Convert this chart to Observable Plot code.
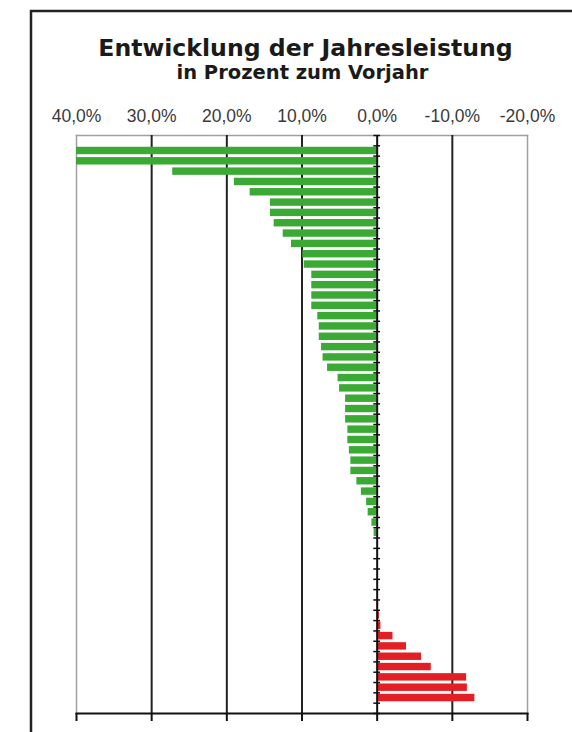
<!DOCTYPE html>
<html>
<head>
<meta charset="utf-8">
<script src="https://cdn.jsdelivr.net/npm/d3@7"></script>
<script src="https://cdn.jsdelivr.net/npm/@observablehq/plot@0.6"></script>
<style>
  html, body { margin: 0; padding: 0; background: #fff; }
  #chart svg { display: block; }
</style>
</head>
<body>
<div id="chart"></div>
<script>
// ---- data ----
const title = "Entwicklung der Jahresleistung";
const subtitle = "in Prozent zum Vorjahr";

// one entry per category slot (top to bottom); null = empty slot
const categories = d3.range(1, 57);
const values = [
  null, 40, 40, 27.2, 19.0, 16.9, 14.2, 14.2, 13.7, 12.5,
  11.4, 9.9, 9.7, 8.7, 8.7, 8.7, 8.7, 7.9, 7.7, 7.7,
  7.4, 7.2, 6.6, 5.2, 5.0, 4.2, 4.2, 4.2, 3.9, 3.9,
  3.7, 3.5, 3.5, 2.7, 2.1, 1.4, 1.2, 0.7, 0.4, null,
  null, null, null, null, null, -0.2, -0.3, -0.5, -2.1, -3.9,
  -5.9, -7.2, -11.9, -12.0, -13.0, null
];
const tickValues = [40, 30, 20, 10, 0, -10, -20];
const tickLabels = ["40,0%", "30,0%", "20,0%", "10,0%", "0,0%", "-10,0%", "-20,0%"];
const gridValues = [30, 20, 10, -10];

const green = "#3aaa35";
const red = "#e31e24";

const rows = categories.map((c, i) => ({cat: c, i, value: values[i]}))
  .filter(d => d.value != null);
const boundaries = d3.range(categories.length + 1).map(k => k - 0.5);
const half = 0.36;

const plot = Plot.plot({
  width: 572,
  height: 732,
  marginLeft: 76,
  marginRight: 45,
  marginTop: 135,
  marginBottom: 19,
  style: {background: "#fff", overflow: "visible"},
  x: {domain: [40, -20], label: null},
  y: {domain: [-0.5, categories.length - 0.5], reverse: true, axis: null, label: null},
  marks: [
    Plot.frame({anchor: "top", stroke: "#a0a0a0", strokeWidth: 1.5}),
    Plot.frame({anchor: "left", stroke: "#a0a0a0", strokeWidth: 1.5}),
    Plot.frame({anchor: "right", stroke: "#a0a0a0", strokeWidth: 1.5}),
    Plot.ruleX(gridValues, {stroke: "#222", strokeWidth: 2}),
    Plot.rect(rows, {
      x1: 0, x2: "value",
      y1: d => d.i - half, y2: d => d.i + half,
      fill: d => d.value >= 0 ? green : red
    }),
    Plot.ruleX([0], {stroke: "#111", strokeWidth: 2}),
    Plot.ruleY(boundaries, {y: d => d, x1: 0.45, x2: -0.45, stroke: "#111", strokeWidth: 1.5}),
    Plot.frame({anchor: "bottom", stroke: "#111", strokeWidth: 2}),
    Plot.axisX({anchor: "bottom", ticks: tickValues, tickSize: 8, tickFormat: () => "", label: null, stroke: "#111", strokeWidth: 2}),
    Plot.axisX({
      anchor: "top", ticks: tickValues, tickSize: 0, tickPadding: 14, label: null,
      tickFormat: d => tickLabels[tickValues.indexOf(d)],
      fontSize: 17.5, fontFamily: "Liberation Sans", fill: "#3a3a3a"
    })
  ]
});

const svg = d3.select(plot);
svg.append("rect")
  .attr("x", 31).attr("y", 11)
  .attr("width", 700).attr("height", 800)
  .attr("fill", "none").attr("stroke", "#222").attr("stroke-width", 2.5);
svg.append("text")
  .attr("x", 305.5).attr("y", 55.5)
  .attr("text-anchor", "middle")
  .attr("font-family", "DejaVu Sans").attr("font-weight", "bold")
  .attr("font-size", 23.6).attr("fill", "#1a1a1a")
  .text(title);
svg.append("text")
  .attr("x", 302.5).attr("y", 78.5)
  .attr("text-anchor", "middle")
  .attr("font-family", "DejaVu Sans").attr("font-weight", "bold")
  .attr("font-size", 19.5).attr("fill", "#1a1a1a")
  .text(subtitle);

document.getElementById("chart").appendChild(plot);
</script>
</body>
</html>
